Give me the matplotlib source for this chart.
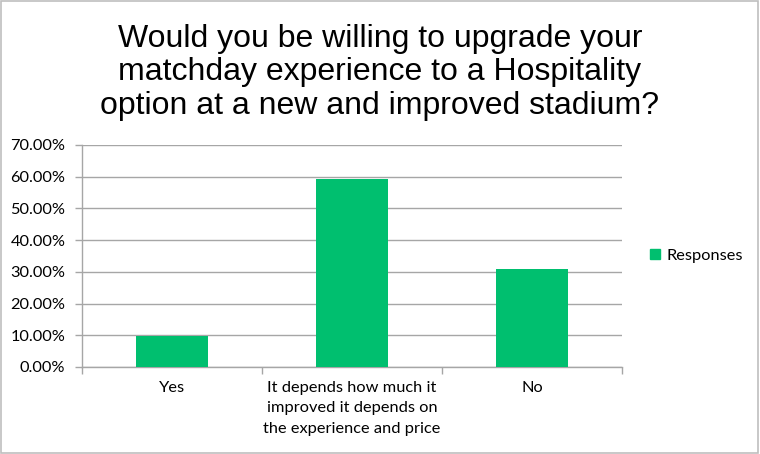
import matplotlib
matplotlib.use("Agg")
import matplotlib.pyplot as plt
from matplotlib.patches import Rectangle
from matplotlib.ticker import FixedLocator, FuncFormatter

title = "Would you be willing to upgrade your\nmatchday experience to a Hospitality\noption at a new and improved stadium?"
categories = ["Yes", "It depends how much it\nimproved it depends on\nthe experience and price", "No"]
responses = [9.88, 59.26, 30.86]
series_name = "Responses"
y_ticks = [0, 10, 20, 30, 40, 50, 60, 70]

green = "#00BF6F"
grid_grey = "#A6A6A6"
text_col = "#000000"
tick_font = "Lato"
tick_size = 11.8

fig = plt.figure(figsize=(7.6, 4.54), dpi=100)
fig.patch.set_facecolor("white")
fig.add_artist(Rectangle((0.0015, 0.002), 0.996, 0.996, transform=fig.transFigure,
                         fill=False, edgecolor="#BFBFBF", linewidth=1.2))

ax = fig.add_axes([82 / 760, 87 / 454, 540 / 760, 222 / 454])
x = list(range(len(categories)))
ax.bar(x, responses, width=0.4, color=green, zorder=3)

ax.set_xlim(-0.5, len(categories) - 0.5)
ax.set_ylim(0, 70)
ax.yaxis.set_major_locator(FixedLocator(y_ticks))
ax.yaxis.set_major_formatter(FuncFormatter(lambda v, _: f"{v:.2f}%"))
ax.grid(axis="y", color=grid_grey, linewidth=1, zorder=0)

ax.set_xticks(x)
ax.set_xticklabels(categories, fontsize=tick_size, family=tick_font, color=text_col, linespacing=1.6)
ax.set_xticks([i - 0.5 for i in range(len(categories) + 1)], minor=True)
ax.tick_params(axis="x", which="major", length=0, pad=10)
ax.tick_params(axis="x", which="minor", length=5, color=grid_grey, width=1)
ax.tick_params(axis="y", length=5, color=grid_grey, width=1, labelsize=tick_size, pad=7)
for lbl in ax.get_yticklabels():
    lbl.set_family(tick_font)

for side in ["top", "right"]:
    ax.spines[side].set_visible(False)
for side in ["left", "bottom"]:
    ax.spines[side].set_color(grid_grey)
    ax.spines[side].set_linewidth(1)

fig.text(0.5, 0.948, title, ha="center", va="top", fontsize=23,
         family="Liberation Sans", color=text_col, linespacing=1.15)

leg = ax.legend([Rectangle((0, 0), 1, 1, color=green)], [series_name],
                loc="center left", bbox_to_anchor=(1.025, 0.5), frameon=False,
                handlelength=0.6, handleheight=0.6, handletextpad=0.4,
                prop={"family": tick_font, "size": tick_size})

fig.savefig("out.png", dpi=100, facecolor="white")
